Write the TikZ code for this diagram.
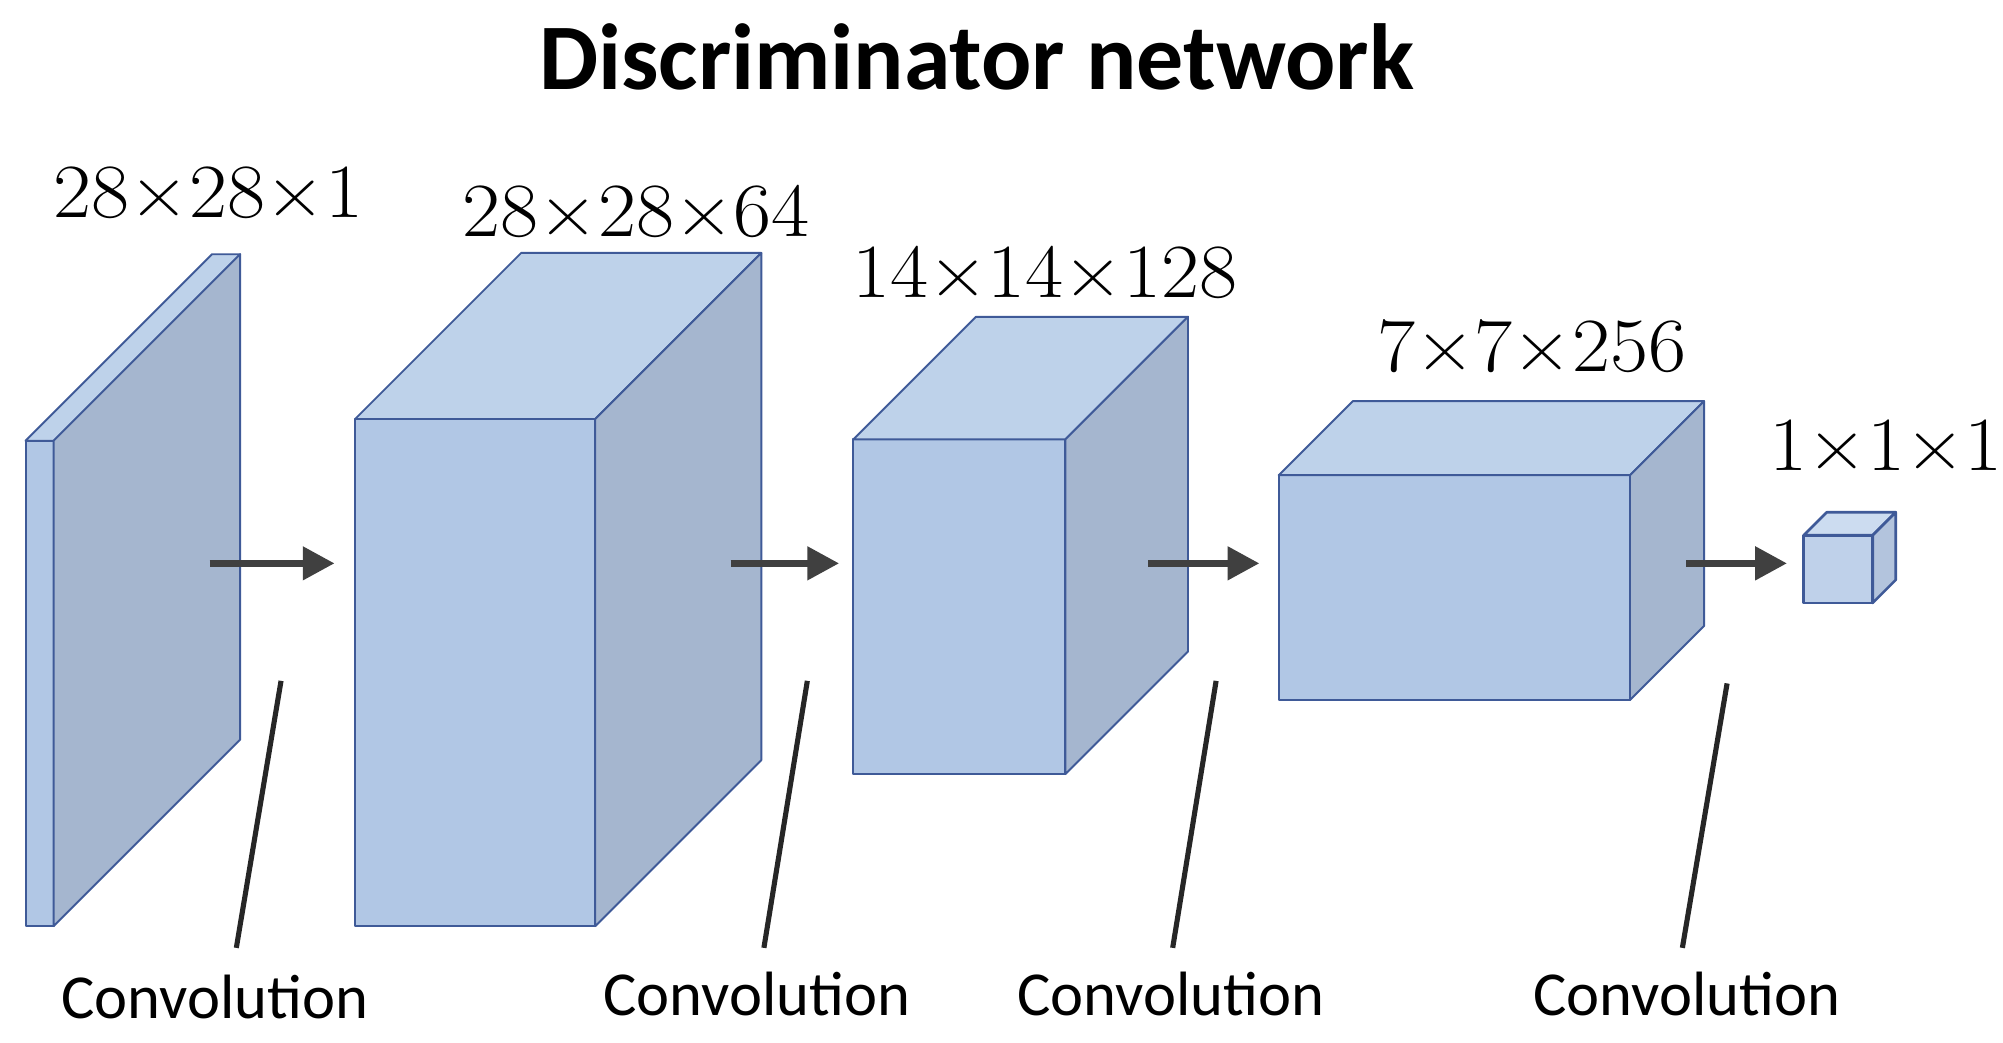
\documentclass[tikz,border=0pt]{standalone}
\usepackage{fontspec}
\setmainfont{Latin Modern Roman}
\newfontfamily\calibri{Carlito}
\newfontfamily\dimfont[FakeStretch=1.08]{Latin Modern Roman}
\usetikzlibrary{arrows.meta,calc}
\definecolor{frontc}{HTML}{B1C7E5}
\definecolor{topc}{HTML}{BED2EA}
\definecolor{sidec}{HTML}{A5B6CF}
\definecolor{edgec}{HTML}{3F5A98}
\definecolor{sfrontc}{HTML}{BFD1EA}
\definecolor{stopc}{HTML}{CCDCF0}
\definecolor{ssidec}{HTML}{B3C4DD}
\definecolor{arrowc}{HTML}{404040}
\definecolor{linec}{HTML}{262626}
\tikzset{
  face/.style={draw=edgec, line width=1.5pt, line join=round, inner sep=0pt, outer sep=0pt, anchor=north west},
  edgeline/.style={draw=edgec, line width=1.5pt, line join=round},
  flow/.style={draw=arrowc, line width=6pt, -{Triangle[length=25pt,width=25pt]}, arrowc},
  convline/.style={draw=linec, line width=4pt},
  dimlabel/.style={anchor=base west, inner sep=0pt, font=\dimfont\fontsize{60}{62}\selectfont},
  convlabel/.style={anchor=base west, inner sep=0pt, font=\calibri\fontsize{49}{50}\selectfont},
}
\begin{document}
\begin{tikzpicture}[x=1pt,y=-1pt]
\useasboundingbox[fill=white] (0,0) rectangle (1568,816);
% title
\node[anchor=base, inner sep=0pt, font=\calibri\bfseries\fontsize{73.5}{75}\selectfont] (title) at (764.5,70) {Discriminator network};
% box 1
\node[face, fill=frontc, minimum width=22pt, minimum height=380pt] (b1) at (20,345) {};
\path[edgeline, fill=topc] (b1.north west) -- ++(146,-146) -- ($(b1.north east)+(146,-146)$) -- (b1.north east) -- cycle;
\path[edgeline, fill=sidec] (b1.north east) -- ++(146,-146) -- ($(b1.south east)+(146,-146)$) -- (b1.south east) -- cycle;
% box 2
\node[face, fill=frontc, minimum width=188pt, minimum height=397pt] (b2) at (278,328) {};
\path[edgeline, fill=topc] (b2.north west) -- ++(130,-130) -- ($(b2.north east)+(130,-130)$) -- (b2.north east) -- cycle;
\path[edgeline, fill=sidec] (b2.north east) -- ++(130,-130) -- ($(b2.south east)+(130,-130)$) -- (b2.south east) -- cycle;
% box 3
\node[face, fill=frontc, minimum width=166pt, minimum height=262pt] (b3) at (668,344) {};
\path[edgeline, fill=topc] (b3.north west) -- ++(96,-96) -- ($(b3.north east)+(96,-96)$) -- (b3.north east) -- cycle;
\path[edgeline, fill=sidec] (b3.north east) -- ++(96,-96) -- ($(b3.south east)+(96,-96)$) -- (b3.south east) -- cycle;
% box 4
\node[face, fill=frontc, minimum width=275pt, minimum height=176pt] (b4) at (1001,372) {};
\path[edgeline, fill=topc] (b4.north west) -- ++(58,-58) -- ($(b4.north east)+(58,-58)$) -- (b4.north east) -- cycle;
\path[edgeline, fill=sidec] (b4.north east) -- ++(58,-58) -- ($(b4.south east)+(58,-58)$) -- (b4.south east) -- cycle;
% box 5
\node[face, fill=sfrontc, line width=2pt, minimum width=54pt, minimum height=53pt] (b5) at (1412,419) {};
\path[edgeline, line width=2pt, fill=stopc] (b5.north west) -- ++(18,-18) -- ($(b5.north east)+(18,-18)$) -- (b5.north east) -- cycle;
\path[edgeline, line width=2pt, fill=ssidec] (b5.north east) -- ++(18,-18) -- ($(b5.south east)+(18,-18)$) -- (b5.south east) -- cycle;
% dimension labels
\node[dimlabel] (d1) at (42,170) {28×28×1};
\node[dimlabel] (d2) at (362,185) {28×28×64};
\node[dimlabel] (d3) at (667,233) {14×14×128};
\node[dimlabel] (d4) at (1078,291) {7×7×256};
\node[dimlabel] (d5) at (1385,368) {1×1×1};
% flow arrows
\coordinate (a1s) at (164,441); \coordinate (a1e) at (262,441);
\coordinate (a2s) at (572,441); \coordinate (a2e) at (657,441);
\coordinate (a3s) at (899,441); \coordinate (a3e) at (986,441);
\coordinate (a4s) at (1320,441); \coordinate (a4e) at (1399,441);
\draw[flow] (a1s) -- (a1e);
\draw[flow] (a2s) -- (a2e);
\draw[flow] (a3s) -- (a3e);
\draw[flow] (a4s) -- (a4e);
% convolution labels and pointer lines
\node[convlabel] (c1) at (48,797) {Convolution};
\node[convlabel] (c2) at (472,795) {Convolution};
\node[convlabel] (c3) at (796,795) {Convolution};
\node[convlabel] (c4) at (1200,795) {Convolution};
\coordinate (p1t) at (220,533); \coordinate (p1b) at (185,742);
\coordinate (p2t) at (632,533); \coordinate (p2b) at (598,742);
\coordinate (p3t) at (952,533); \coordinate (p3b) at (918,742);
\coordinate (p4t) at (1352,535); \coordinate (p4b) at (1317,742);
\draw[convline] (p1t) -- (p1b);
\draw[convline] (p2t) -- (p2b);
\draw[convline] (p3t) -- (p3b);
\draw[convline] (p4t) -- (p4b);
\end{tikzpicture}
\end{document}
